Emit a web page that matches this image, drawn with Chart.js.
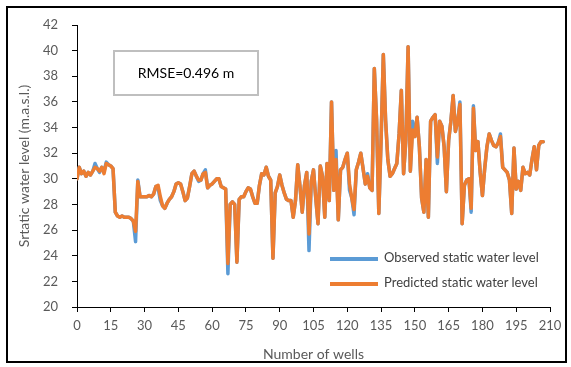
<!DOCTYPE html>
<html>
<head>
<meta charset="utf-8">
<script src="https://cdn.jsdelivr.net/npm/chart.js@4"></script>
<style>
  body { margin: 0; background: #fff; }
  #wrap { position: relative; width: 571px; height: 367px; }
  #frame { position: absolute; left: 6px; top: 6px; width: 557px; height: 353px; border: 2px solid #000; }
  #rmse { position: absolute; left: 113px; top: 50px; width: 142px; height: 42px; border: 2px solid #bfbfbf;
          font: 14px Lato, sans-serif; color: #000; text-align: center; line-height: 42px; }
  .leg { position: absolute; left: 330px; font: 13px Lato, sans-serif; color: #404040; white-space: nowrap; }
  .leg span { display: inline-block; width: 48px; height: 4px; vertical-align: middle; margin-right: 6px; }
</style>
</head>
<body>
<div id="wrap">
  <canvas id="chart" width="571" height="367"></canvas>
  <div id="frame"></div>
  <div id="rmse">RMSE=0.496 m</div>
  <div class="leg" style="top:249px"><span style="background:#5B9BD5"></span>Observed static water level</div>
  <div class="leg" style="top:274px"><span style="background:#ED7D31"></span>Predicted static water level</div>
</div>
<script>
// Static water level per well
var observed = [30.0,30.9,30.4,30.6,30.2,30.5,30.3,30.6,31.2,30.8,
  30.5,30.9,30.6,31.3,31.1,31.0,30.8,27.4,27.1,27.0,
  27.1,27.0,27.0,27.0,26.9,26.7,25.1,29.9,28.6,28.6,
  28.6,28.6,28.7,28.6,28.8,29.4,29.3,28.3,27.9,27.7,
  28.1,28.4,28.6,29.0,29.6,29.7,29.6,29.0,28.3,28.5,
  29.4,30.4,30.6,30.2,29.8,29.9,30.4,30.7,29.3,29.5,
  29.6,29.8,30.0,30.0,29.4,29.3,29.2,22.6,28.0,28.2,
  28.0,23.5,28.4,28.6,28.6,29.0,29.3,29.2,28.6,28.1,
  28.1,29.5,30.4,30.3,30.9,30.2,29.9,23.8,28.9,29.4,
  30.3,29.5,28.9,28.4,28.3,28.3,27.0,28.3,31.1,29.4,
  27.4,29.5,30.5,24.4,29.8,30.7,28.5,26.5,31.0,30.2,
  27.0,31.2,28.3,36.0,29.1,32.2,26.8,30.7,30.9,31.5,
  32.0,29.1,28.5,27.2,30.7,31.3,32.0,30.8,29.6,30.4,
  29.3,29.1,38.6,34.6,27.3,33.0,39.7,34.6,31.5,30.2,
  30.4,30.8,31.2,33.5,36.9,30.4,33.0,40.3,30.6,34.5,
  33.3,34.8,32.5,28.5,27.4,31.5,27.0,34.5,34.8,35.0,
  31.2,34.5,34.1,32.5,29.0,33.0,34.5,36.5,33.7,34.5,
  36.0,26.5,29.5,29.9,30.0,27.4,35.7,32.2,32.9,30.5,
  28.7,30.8,32.5,33.5,33.0,32.6,32.5,32.8,33.5,30.9,
  30.7,30.5,29.9,27.3,32.4,29.2,29.8,29.1,30.9,30.4,
  30.5,30.3,31.5,32.5,30.7,32.6,32.9,32.9];

var predicted = [30.0,30.9,30.4,30.6,30.2,30.5,30.3,30.6,30.9,30.8,
  30.6,30.9,30.4,31.2,31.1,31.0,30.8,27.4,27.1,27.0,
  27.1,27.0,27.0,27.0,26.9,26.7,25.9,29.8,28.6,28.6,
  28.6,28.6,28.7,28.6,28.8,29.4,29.5,28.6,27.9,27.7,
  28.1,28.4,28.6,29.0,29.6,29.7,29.6,29.0,28.3,28.5,
  29.4,30.4,30.6,30.2,29.9,29.9,30.4,30.5,29.3,29.5,
  29.6,29.8,30.0,30.0,29.4,29.3,29.2,23.4,28.0,28.2,
  28.0,23.5,28.4,28.6,28.6,29.0,29.3,29.2,28.6,28.1,
  28.1,29.5,30.4,30.3,30.9,30.2,29.9,23.8,28.9,29.4,
  30.3,29.5,28.9,28.4,28.3,28.3,27.0,28.3,31.1,29.4,
  27.4,29.5,30.5,25.7,29.8,30.7,28.5,26.5,31.0,30.2,
  27.0,31.2,28.3,36.0,29.1,31.5,26.8,30.7,30.9,31.5,
  32.0,29.6,28.5,27.6,30.7,31.3,32.0,30.8,29.6,30.2,
  29.3,29.1,38.6,34.6,27.3,33.0,39.7,34.6,31.5,30.2,
  30.4,30.8,31.2,33.5,36.9,30.4,33.0,40.3,30.6,33.8,
  33.3,34.8,32.5,28.5,27.4,31.5,27.0,34.5,34.8,35.0,
  31.7,34.5,34.1,32.5,29.0,33.0,34.5,36.5,33.7,34.5,
  35.8,26.5,29.5,29.9,30.0,27.7,35.5,32.2,32.9,30.5,
  28.7,30.8,32.5,33.5,33.0,32.6,32.5,32.8,33.3,30.9,
  30.7,30.5,29.9,27.3,32.4,29.2,29.8,29.1,30.9,30.4,
  30.5,30.3,31.5,32.5,30.7,32.6,32.9,32.9];

var xTicks = [0, 15, 30, 45, 60, 75, 90, 105, 120, 135, 150, 165, 180, 195, 210];
var yTicks = [20, 22, 24, 26, 28, 30, 32, 34, 36, 38, 40, 42];

function toPoints(arr) {
  return arr.map(function (v, i) { return { x: i, y: v }; });
}

var grey = '#595959';
var tickFont = { family: 'Lato', size: 13 };

var ctx = document.getElementById('chart');
new Chart(ctx, {
  type: 'line',
  data: {
    datasets: [
      {
        label: 'Observed static water level',
        data: toPoints(observed),
        borderColor: '#5B9BD5',
        borderWidth: 3.5,
        pointRadius: 0,
        borderJoinStyle: 'round',
        borderCapStyle: 'round',
        order: 1
      },
      {
        label: 'Predicted static water level',
        data: toPoints(predicted),
        borderColor: '#ED7D31',
        borderWidth: 3.5,
        pointRadius: 0,
        borderJoinStyle: 'round',
        borderCapStyle: 'round',
        order: 0
      }
    ]
  },
  options: {
    responsive: false,
    animation: false,
    layout: { padding: { left: 0, right: 21, top: 25, bottom: 0 } },
    plugins: { legend: { display: false }, tooltip: { enabled: false } },
    scales: {
      x: {
        type: 'linear',
        min: 0,
        max: 210,
        afterBuildTicks: function (s) { s.ticks = xTicks.map(function (v) { return { value: v }; }); },
        afterFit: function (s) { s.height = 60; },
        grid: { drawOnChartArea: false, drawTicks: true, tickLength: 5, color: '#000' },
        border: { color: '#000', width: 1 },
        ticks: { color: grey, font: tickFont, padding: 6, maxRotation: 0, autoSkip: false },
        title: { display: true, text: 'Number of wells', color: grey, font: { family: 'Lato', size: 14 }, padding: { top: 0, bottom: 4 } }
      },
      y: {
        min: 20,
        max: 42,
        afterBuildTicks: function (s) { s.ticks = yTicks.map(function (v) { return { value: v }; }); },
        afterFit: function (s) { s.width = 77; },
        grid: { drawOnChartArea: false, drawTicks: true, tickLength: 5, color: '#000' },
        border: { color: '#000', width: 1 },
        ticks: { color: grey, font: tickFont, padding: 14, autoSkip: false },
        title: { display: true, text: 'Srtatic water level (m.a.s.l.)', color: grey, font: { family: 'Lato', size: 14 }, padding: { top: 16, bottom: 0 } }
      }
    }
  }
});
</script>
</body>
</html>
